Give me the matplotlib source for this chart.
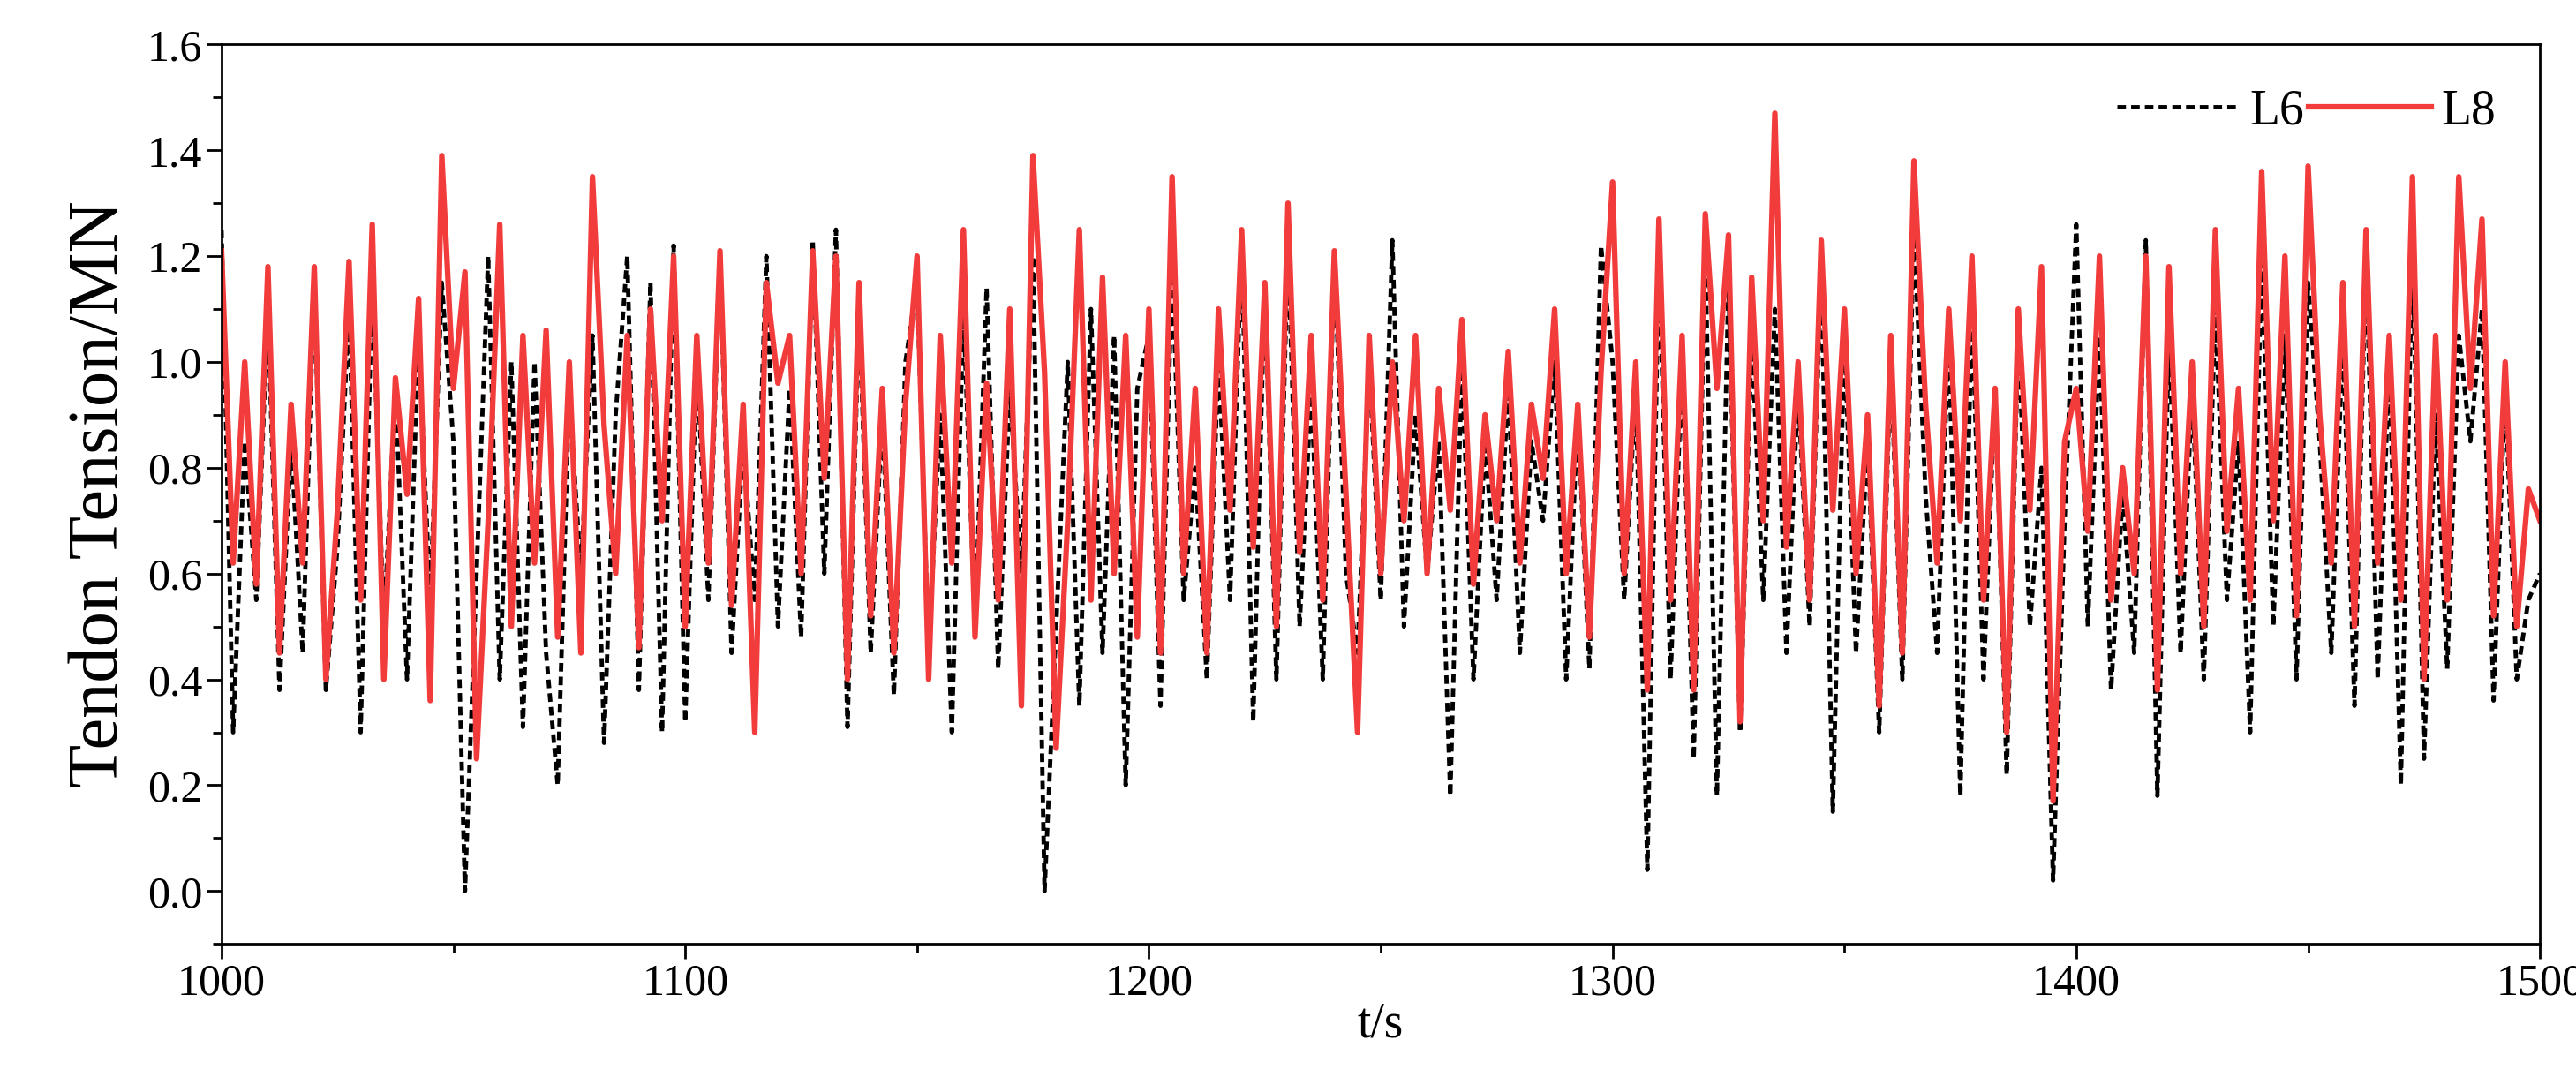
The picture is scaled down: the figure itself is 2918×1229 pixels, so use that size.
import numpy as np
import matplotlib
matplotlib.use("Agg")
import matplotlib.pyplot as plt
from matplotlib.ticker import MultipleLocator

t = np.arange(1000, 1500.01, 2.5)

L8 = [1.21,0.62,1.0,0.58,1.18,0.45,0.92,0.62,1.18,0.40,
      0.72,1.19,0.55,1.26,0.40,0.97,0.75,1.12,0.36,1.39,
      0.95,1.17,0.25,0.70,1.26,0.50,1.05,0.62,1.06,0.48,
      1.00,0.45,1.35,0.88,0.60,1.05,0.46,1.10,0.70,1.20,
      0.50,1.05,0.62,1.21,0.54,0.92,0.30,1.15,0.96,1.05,
      0.60,1.21,0.78,1.20,0.40,1.15,0.52,0.95,0.45,0.92,
      1.20,0.40,1.05,0.62,1.25,0.48,0.96,0.55,1.10,0.35,
      1.39,0.98,0.27,0.70,1.25,0.55,1.16,0.60,1.05,0.48,
      1.10,0.45,1.35,0.60,0.95,0.45,1.10,0.72,1.25,0.65,
      1.15,0.50,1.30,0.64,1.05,0.55,1.21,0.75,0.30,1.05,
      0.60,1.00,0.70,1.05,0.60,0.95,0.72,1.08,0.58,0.90,
      0.70,1.02,0.62,0.92,0.78,1.10,0.60,0.92,0.48,0.98,
      1.34,0.60,1.00,0.38,1.27,0.55,1.05,0.38,1.28,0.95,
      1.24,0.32,1.16,0.70,1.47,0.65,1.00,0.55,1.23,0.72,
      1.10,0.60,0.90,0.35,1.05,0.45,1.38,0.92,0.62,1.10,
      0.70,1.20,0.55,0.95,0.30,1.10,0.72,1.18,0.17,0.85,
      0.95,0.68,1.20,0.55,0.80,0.60,1.20,0.38,1.18,0.60,
      1.00,0.50,1.25,0.68,0.95,0.55,1.36,0.70,1.20,0.52,
      1.37,0.90,0.62,1.15,0.50,1.25,0.62,1.05,0.55,1.35,
      0.40,1.05,0.55,1.35,0.95,1.27,0.52,1.00,0.50,0.76,
      0.70]

L6 = [1.25,0.30,0.85,0.55,1.10,0.38,0.85,0.45,1.15,0.38,
      0.65,1.10,0.30,1.15,0.50,0.95,0.40,1.05,0.55,1.15,
      0.85,0.00,0.60,1.20,0.40,1.00,0.31,1.00,0.45,0.20,
      0.95,0.60,1.05,0.28,0.90,1.20,0.38,1.15,0.30,1.22,
      0.32,1.00,0.55,1.20,0.45,0.85,0.55,1.20,0.50,0.95,
      0.48,1.23,0.60,1.25,0.31,1.10,0.45,0.90,0.37,1.00,
      1.15,0.45,0.90,0.30,1.10,0.50,1.14,0.42,0.95,0.60,
      1.20,0.00,0.50,1.00,0.35,1.10,0.45,1.05,0.20,0.95,
      1.05,0.35,1.18,0.55,0.80,0.40,1.00,0.55,1.22,0.32,
      1.15,0.40,1.22,0.50,0.95,0.40,1.20,0.60,0.45,1.00,
      0.55,1.23,0.50,0.90,0.60,0.85,0.18,1.00,0.40,0.85,
      0.55,0.95,0.45,0.85,0.70,1.00,0.40,0.90,0.42,1.22,
      1.00,0.55,0.95,0.04,1.20,0.40,1.00,0.25,1.20,0.18,
      1.15,0.30,1.05,0.55,1.10,0.45,0.95,0.50,1.17,0.15,
      1.05,0.45,0.85,0.30,1.00,0.40,1.25,0.75,0.45,1.05,
      0.18,1.10,0.40,0.95,0.22,1.05,0.50,0.80,0.02,0.70,
      1.26,0.50,1.05,0.38,0.75,0.45,1.23,0.18,1.05,0.45,
      0.95,0.40,1.10,0.55,0.85,0.30,1.20,0.50,1.05,0.40,
      1.15,0.85,0.45,1.05,0.35,1.20,0.40,1.00,0.20,1.22,
      0.25,0.90,0.42,1.05,0.85,1.10,0.36,0.95,0.40,0.55,
      0.60]

plt.rcParams['font.family'] = ['Liberation Serif', 'DejaVu Serif']
fig = plt.figure(figsize=(29.18, 12.29), dpi=100)
ax = fig.add_axes([0.086, 0.13, 0.90, 0.829])
ax.plot(t, L6, color='black', ls=(0, (2, 1.2)), lw=3.5, label='L6')
ax.plot(t, L8, color='#f23b3b', lw=4.5, label='L8')
ax.set_xlim(1000, 1500)
ax.set_ylim(-0.1, 1.6)
ax.xaxis.set_major_locator(MultipleLocator(100))
ax.xaxis.set_minor_locator(MultipleLocator(50))
ax.yaxis.set_major_locator(MultipleLocator(0.2))
ax.yaxis.set_minor_locator(MultipleLocator(0.1))
ax.yaxis.set_major_formatter(matplotlib.ticker.FormatStrFormatter('%.1f'))
ax.tick_params(which='major', direction='out', length=12, width=2, labelsize=36)
ax.tick_params(which='minor', direction='out', length=7, width=2)
for s in ax.spines.values():
    s.set_linewidth(2)
ax.set_xlabel('t/s', fontsize=40, labelpad=-2)
ax.set_ylabel('Tendon Tension/MN', fontsize=58, labelpad=12)
ax.legend(loc='upper right', ncol=2, frameon=False, fontsize=40,
          handlelength=2.5, columnspacing=0.1, handletextpad=0.2)
fig.savefig('out.png', dpi=100)
